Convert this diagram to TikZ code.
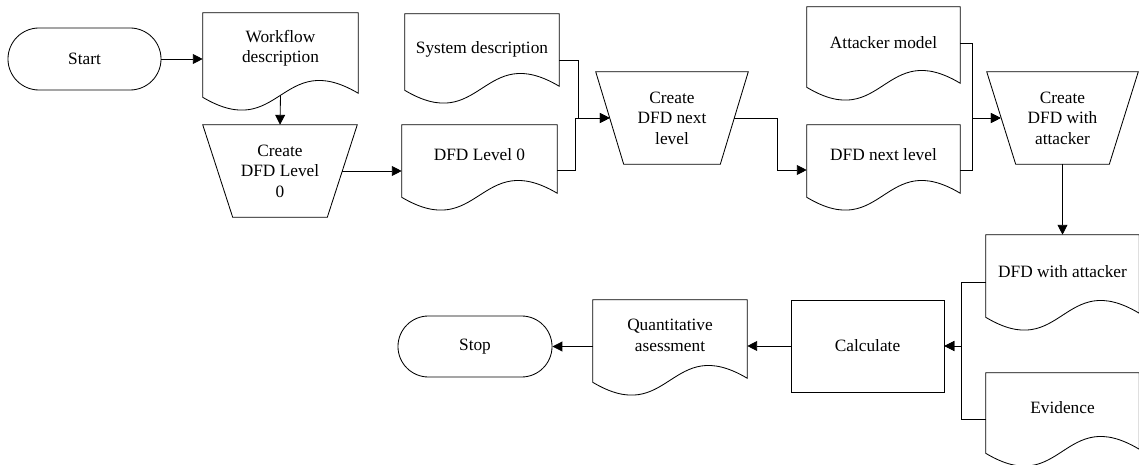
\documentclass[tikz,border=0pt]{standalone}
\usepackage{fontspec}
\setmainfont{Liberation Serif}
\usetikzlibrary{shapes.misc,calc,arrows.meta}
\newcommand\docshape[2]{%
  \draw[shp] (#1.north west) -- (#1.north east) -- ($(#1.south east)+(0,#2-4)$)
    .. controls ($(#1.south)+(0,#2-2-48)$) and ($(#1.south)+(0,#2-2+48)$) ..
    ($(#1.south west)+(0,#2)$) -- cycle;}
\newcommand\trapshape[2]{%
  \draw[shp] (#1.north west) -- (#1.north east) -- ($(#1.south east)+(-#2,0)$)
    -- ($(#1.south west)+(#2,0)$) -- cycle;}
\tikzset{
  base/.style={inner sep=0pt, align=center, font=\fontsize{12.3}{14.5}\selectfont},
  shp/.style={line width=0.6pt},
  term/.style={base, shp, draw, rounded rectangle},
  docbox/.style={base},
  trapbox/.style={base, minimum height=2.3cm},
  procbox/.style={base, shp, draw, minimum height=2.3cm},
  arr/.style={line width=0.6pt, -{Triangle[length=7pt,width=7pt]}},
  ln/.style={line width=0.6pt}
}
\begin{document}
\begin{tikzpicture}[x=0.025cm,y=-0.025cm]
\useasboundingbox (0,0) rectangle (1139,465);
% nodes
\node[term, minimum width=3.825cm, minimum height=1.55cm] (start) at (84.5,59) {Start};
\node[docbox, minimum width=3.875cm, minimum height=1.75cm] (wf) at (280.5,48) {Workflow\\description};
\node[trapbox, minimum width=3.85cm] (c0) at (280,171) {Create\\DFD Level\\0};
\node[docbox, minimum width=3.875cm, minimum height=1.5cm] (d0) at (479.5,155) {DFD Level 0};
\node[docbox, minimum width=3.85cm, minimum height=1.75cm] (sd) at (482,49) {System description};
\node[trapbox, minimum width=3.8cm] (c1) at (672,118) {Create\\DFD next\\level};
\node[docbox, minimum width=3.825cm, minimum height=1.5cm] (dn) at (883.5,155) {DFD next level};
\node[docbox, minimum width=3.825cm, minimum height=1.8cm] (am) at (883.5,43) {Attacker model};
\node[trapbox, minimum width=3.775cm] (c2) at (1062.5,118) {Create\\DFD with\\attacker};
\node[docbox, minimum width=3.825cm, minimum height=1.85cm] (da) at (1062.5,272) {DFD with attacker};
\node[docbox, minimum width=3.825cm, minimum height=1.75cm] (ev) at (1062.5,408) {Evidence};
\node[procbox, minimum width=3.825cm] (calc) at (867.5,346) {Calculate};
\node[docbox, minimum width=3.85cm, minimum height=1.775cm] (qa) at (670,335.5) {Quantitative\\asessment};
\node[term, minimum width=3.85cm, minimum height=1.525cm] (stop) at (475,346.5) {Stop};
% outlines
\docshape{wf}{14}
\docshape{d0}{12}
\docshape{sd}{6}
\docshape{dn}{12}
\docshape{am}{8}
\docshape{da}{8}
\docshape{ev}{10}
\docshape{qa}{11}
\trapshape{c0}{30}
\trapshape{c1}{28}
\trapshape{c2}{29}
% connectors
\draw[arr] (start.east) -- (start.east -| wf.west);
\draw[arr] ($(wf.south)+(0,12)$) -- (c0.north);
\draw[arr] ($(c0.east)+(-15,0)$) -- ($(c0.east -| d0.west)$);
\draw[arr] ($(sd.east)+(0,11)$) -- ++(19,0) |- ($(c1.west)+(14,0)$);
\draw[arr] ($(d0.east)+(0,15)$) -- ++(18,0) |- ($(c1.west)+(14,0)$);
\draw[arr] ($(c1.east)+(-14,0)$) -- ++(43,0) |- ($(dn.west)+(0,15)$);
\draw[arr] (am.east) -- ++(12,0) |- ($(c2.west)+(14,0)$);
\draw[arr] ($(dn.east)+(0,15)$) -- ++(12,0) |- ($(c2.west)+(14,0)$);
\draw[arr] (c2.south) -- (da.north);
\draw[arr] ($(da.west)+(0,10)$) -- ++(-24,0) |- (calc.east);
\draw[arr] ($(ev.west)+(0,11)$) -- ++(-24,0) |- (calc.east);
\draw[arr] (calc.west) -- (calc.west -| qa.east);
\draw[arr] (stop.east -| qa.west) -- (stop.east);
\end{tikzpicture}
\end{document}
